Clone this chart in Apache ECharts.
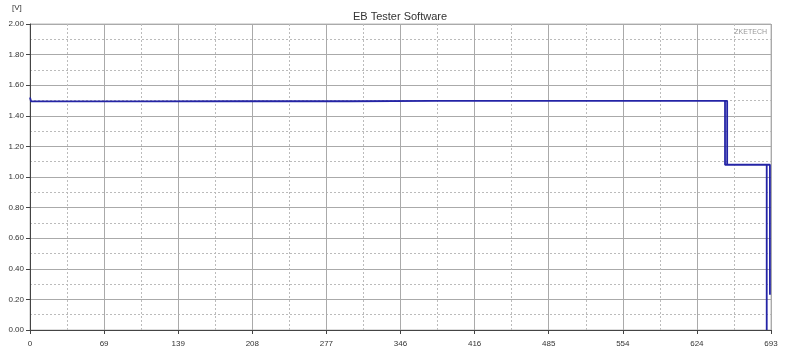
<!DOCTYPE html>
<html>
<head>
<meta charset="utf-8">
<script src="https://cdn.jsdelivr.net/npm/echarts@6/dist/echarts.min.js"></script>
<style>
html,body{margin:0;padding:0;background:#fff;}
#c{width:800px;height:355px;}
</style>
</head>
<body>
<div id="c"></div>
<script>
// Data (time on x, voltage [V] on y)
var timeValues = [0, 0.5, 1, 100, 200, 300, 380, 640, 652, 652, 650, 650, 650, 689, 689, 689, 692, 692];
var voltValues = [1.52, 1.52, 1.494, 1.494, 1.495, 1.495, 1.497, 1.497, 1.497, 1.08, 1.08, 1.497, 1.08, 1.08, 0.0, 1.08, 1.08, 0.23];
var xTickLabels = ['0', '69', '139', '208', '277', '346', '416', '485', '554', '624', '693'];
var xMax = 693;
var yTickStep = 0.2;

var seriesData = timeValues.map(function (t, i) { return [t, voltValues[i]]; });
var font = 'Liberation Sans';

var chart = echarts.init(document.getElementById('c'), null, {renderer: 'canvas'});
chart.setOption({
  animation: false,
  backgroundColor: '#ffffff',
  title: {
    text: 'EB Tester Software',
    left: 'center',
    top: 6,
    textStyle: {fontFamily: font, fontSize: 11, fontWeight: 'normal', color: '#333'}
  },
  graphic: [
    {type: 'text', left: 12, top: 4, style: {text: '[V]', font: '8px ' + font, fill: '#333'}},
    {type: 'text', right: 33, top: 29, style: {text: 'ZKETECH', font: '7px ' + font, fill: '#999'}}
  ],
  grid: {left: 30, right: 29, top: 24, bottom: 25, show: true, borderColor: '#bbb', borderWidth: 1},
  xAxis: {
    type: 'value',
    min: 0, max: xMax, interval: xMax / 10,
    axisLine: {show: true, lineStyle: {color: '#444', width: 1}},
    axisTick: {show: true, length: 4, lineStyle: {color: '#444'}},
    axisLabel: {
      fontFamily: font, fontSize: 8, color: '#333', margin: 10,
      formatter: function (v) { return xTickLabels[Math.round(v / (xMax / 10))]; }
    },
    splitLine: {show: true, lineStyle: {color: '#aaa', width: 1, type: 'solid'}},
    minorTick: {show: false, splitNumber: 2},
    minorSplitLine: {show: true, lineStyle: {color: '#bbb', width: 1, type: [2, 2]}}
  },
  yAxis: {
    type: 'value',
    min: 0, max: 2, interval: yTickStep,
    axisLine: {show: true, lineStyle: {color: '#444', width: 1}},
    axisTick: {show: true, length: 4, lineStyle: {color: '#444'}},
    axisLabel: {
      fontFamily: font, fontSize: 8, color: '#333', margin: 6,
      formatter: function (v) { return v.toFixed(2); }
    },
    splitLine: {show: true, lineStyle: {color: '#aaa', width: 1, type: 'solid'}},
    minorTick: {show: false, splitNumber: 2},
    minorSplitLine: {show: true, lineStyle: {color: '#bbb', width: 1, type: [2, 2]}}
  },
  series: [{
    type: 'line',
    data: seriesData,
    showSymbol: false,
    symbol: 'none',
    lineStyle: {color: '#2424a6', width: 1.8},
    z: 5
  }]
});
</script>
</body>
</html>
